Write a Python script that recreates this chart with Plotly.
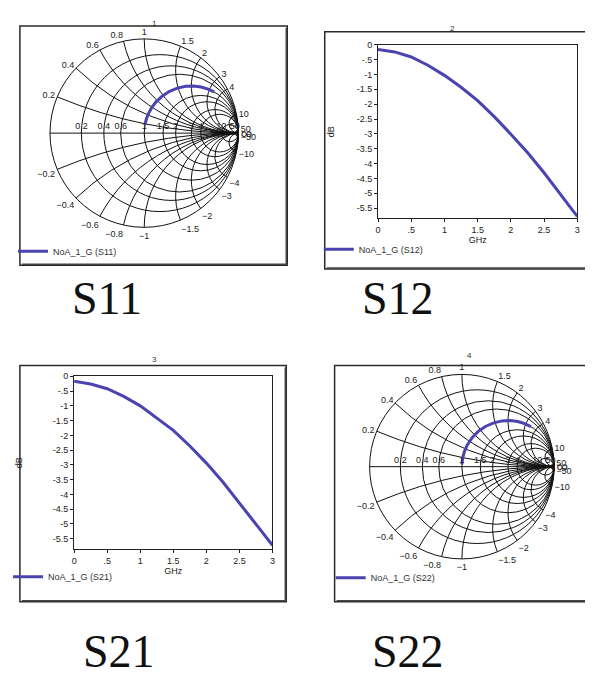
import plotly.graph_objects as go

W, H = 593, 684

# ---------------- data ----------------
freq_ghz = [0, 0.25, 0.5, 0.75, 1.0, 1.25, 1.5, 1.75, 2.0, 2.25, 2.5, 2.75, 3.0]
s12_db = [-0.16, -0.24, -0.41, -0.69, -1.03, -1.43, -1.88, -2.42, -3.01, -3.63, -4.31, -5.05, -5.78]
s21_db = [-0.17, -0.26, -0.42, -0.68, -1.00, -1.40, -1.83, -2.36, -2.94, -3.58, -4.28, -5.00, -5.72]
s11_real = [1.0] * 13
s11_imag = [0.18, 0.30, 0.43, 0.58, 0.76, 0.97, 1.20, 1.47, 1.78, 2.10, 2.47, 2.90, 3.40]
s22_real = [1.0] * 13
s22_imag = [0.05, 0.18, 0.33, 0.50, 0.70, 0.92, 1.17, 1.45, 1.76, 2.10, 2.48, 2.92, 3.45]

real_ticks = [0.2, 0.4, 0.6, 1.0, 1.5, 2, 3, 4, 10, 50]
imag_ticks = [0.2, 0.4, 0.6, 0.8, 1.0, 1.5, 2, 3, 4, 10, 50,
              -0.2, -0.4, -0.6, -0.8, -1.0, -1.5, -2, -3, -4, -10, -50]
db_tickvals = [0, -0.5, -1, -1.5, -2, -2.5, -3, -3.5, -4, -4.5, -5, -5.5]
db_ticktext = ["0", "-.5", "-1", "-1.5", "-2", "-2.5", "-3", "-3.5", "-4", "-4.5", "-5", "-5.5"]
ghz_tickvals = [0, 0.5, 1, 1.5, 2, 2.5, 3]
ghz_ticktext = ["0", ".5", "1", "1.5", "2", "2.5", "3"]
series_names = ["NoA_1_G (S11)", "NoA_1_G (S12)", "NoA_1_G (S21)", "NoA_1_G (S22)"]
panel_numbers = ["1", "2", "3", "4"]
big_labels = ["S11", "S12", "S21", "S22"]

LINE = "#4a43b0"


def px(x):
    return x / W


def py(y):
    return 1 - y / H


fig = go.Figure()

fig.add_trace(go.Scattersmith(real=s11_real, imag=s11_imag, mode="lines",
                              line=dict(color=LINE, width=3), name=series_names[0],
                              subplot="smith", legend="legend", showlegend=True))
fig.add_trace(go.Scatter(x=freq_ghz, y=s12_db, mode="lines",
                         line=dict(color=LINE, width=3), name=series_names[1],
                         xaxis="x", yaxis="y", legend="legend2", showlegend=True))
fig.add_trace(go.Scatter(x=freq_ghz, y=s21_db, mode="lines",
                         line=dict(color=LINE, width=3), name=series_names[2],
                         xaxis="x2", yaxis="y2", legend="legend3", showlegend=True))
fig.add_trace(go.Scattersmith(real=s22_real, imag=s22_imag, mode="lines",
                              line=dict(color=LINE, width=3), name=series_names[3],
                              subplot="smith2", legend="legend4", showlegend=True))

tickfont = dict(family="Liberation Sans, Arial", size=9, color="#222")

smith_common = dict(
    bgcolor="white",
    realaxis=dict(tickvals=real_ticks, gridcolor="#111", linecolor="#111",
                  tickangle=0, tickfont=tickfont, gridwidth=1.2, ticks=""),
    imaginaryaxis=dict(tickvals=imag_ticks, gridcolor="#111", linecolor="#111",
                       tickfont=tickfont, gridwidth=1.2, ticks=""),
)

fig.update_layout(
    width=W, height=H, margin=dict(l=0, r=0, t=0, b=0),
    paper_bgcolor="white", plot_bgcolor="white", showlegend=True,
    font=dict(family="Liberation Sans, Arial", size=9, color="#222"),
    smith=dict(domain=dict(x=[px(37.5), px(228.5)], y=[py(216.5), py(25.5)]), **smith_common),
    smith2=dict(domain=dict(x=[px(361.5), px(548.5)], y=[py(550.5), py(363.5)]), **smith_common),
)

axis_common = dict(showgrid=False, zeroline=False, showline=True, linecolor="#222",
                   linewidth=1, mirror=True, ticks="outside", ticklen=3,
                   tickcolor="#222", tickfont=tickfont)

fig.update_layout(
    xaxis=dict(domain=[px(370), px(572)], range=[0, 3], tickvals=ghz_tickvals,
               ticktext=ghz_ticktext, anchor="y",
               title=dict(text="GHz", font=tickfont, standoff=2), **axis_common),
    yaxis=dict(domain=[py(207), py(32)], range=[-5.85, 0], tickvals=db_tickvals,
               ticktext=db_ticktext, anchor="x",
               title=dict(text="dB", font=tickfont, standoff=20), **axis_common),
    xaxis2=dict(domain=[px(62), px(263)], range=[0, 3], tickvals=ghz_tickvals,
                ticktext=ghz_ticktext, anchor="y2",
                title=dict(text="GHz", font=tickfont, standoff=2), **axis_common),
    yaxis2=dict(domain=[py(540), py(366)], range=[-5.85, 0], tickvals=db_tickvals,
                ticktext=db_ticktext, anchor="x2",
                title=dict(text="dB", font=tickfont, standoff=28), **axis_common),
)

legend_font = dict(family="Liberation Sans, Arial", size=9, color="#333")
legend_pos = [(0, 240), (310, 238), (-5, 568), (322, 569)]
for i, (lx, ly) in enumerate(legend_pos):
    key = "legend" if i == 0 else f"legend{i + 1}"
    fig.update_layout({key: dict(x=px(lx), y=py(ly), xanchor="left", yanchor="middle",
                                 bgcolor="rgba(0,0,0,0)", font=legend_font,
                                 itemwidth=30, tracegroupgap=0)})

# panel frames
frames = [(7, 13, 278, 254), (316, 19, 590, 258), (7, 355, 277, 593), (326, 355, 590, 593)]
shapes = []
for (x0, y0, x1, y1) in frames:
    shapes.append(dict(type="rect", xref="paper", yref="paper",
                       x0=px(x0), y0=py(y1), x1=px(x1), y1=py(y0),
                       line=dict(color="#2a2a2a", width=1.5)))
    shapes.append(dict(type="line", xref="paper", yref="paper",
                       x0=px(x0 + 2), y0=py(y1 - 1), x1=px(x1 - 1), y1=py(y1 - 1),
                       line=dict(color="#444", width=1.5)))
    shapes.append(dict(type="line", xref="paper", yref="paper",
                       x0=px(x1 - 1), y0=py(y0 + 2), x1=px(x1 - 1), y1=py(y1 - 1),
                       line=dict(color="#444", width=1.5)))
fig.update_layout(shapes=shapes)

annotations = []
num_pos = [(143, 11), (446, 16), (143, 349), (463, 345)]
for t, (ax, ay) in zip(panel_numbers, num_pos):
    annotations.append(dict(text=t, x=px(ax), y=py(ay), xref="paper", yref="paper",
                            showarrow=False, font=dict(family="Liberation Sans", size=8, color="#333"),
                            xanchor="center", yanchor="middle"))
big_pos = [(95, 288), (390, 288), (107, 643), (400, 643)]
for t, (ax, ay) in zip(big_labels, big_pos):
    annotations.append(dict(text=t, x=px(ax), y=py(ay), xref="paper", yref="paper",
                            showarrow=False, font=dict(family="Liberation Serif, Times New Roman", size=46, color="#111"),
                            xanchor="center", yanchor="middle"))
fig.update_layout(annotations=annotations)

fig.write_html("out.html")
